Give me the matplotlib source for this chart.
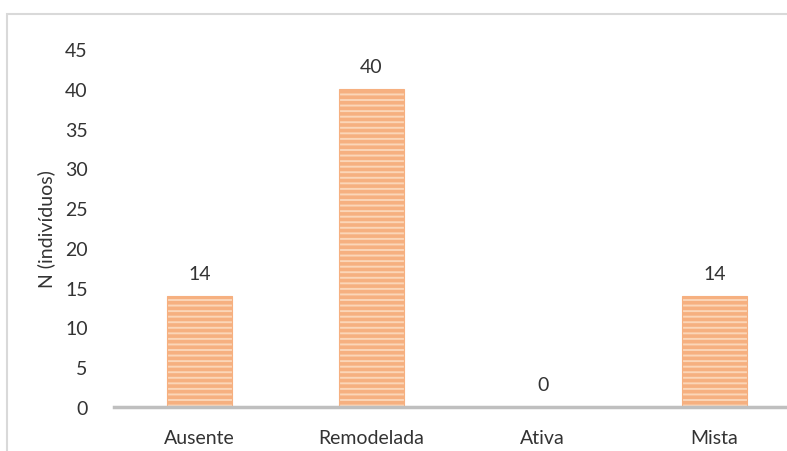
import matplotlib.pyplot as plt
from matplotlib.patches import Rectangle

# data
categorias = ['Ausente', 'Remodelada', 'Ativa', 'Mista']
valores = [14, 40, 0, 14]
yticks = [0, 5, 10, 15, 20, 25, 30, 35, 40, 45]

plt.rcParams['font.family'] = ['Lato', 'DejaVu Sans']
plt.rcParams['hatch.color'] = '#F08234'
plt.rcParams['hatch.linewidth'] = 2.6

W, H = 787, 452
fig = plt.figure(figsize=(W / 100, H / 100), dpi=100)

# outer chart frame
fig.patches.append(Rectangle((7 / W, -0.1), 1.2, (H - 15) / H + 0.1,
                             transform=fig.transFigure, fill=False,
                             edgecolor='#D9D9D9', linewidth=1.5))

ax = fig.add_axes([114 / W, (H - 408) / H, 686 / W, 358 / H])

x = list(range(len(categorias)))
ax.bar(x, valores, width=0.38, color='#FBD6B8', edgecolor='#F6B080',
       linewidth=0.8, hatch='---')

for xi, v in zip(x, valores):
    ax.text(xi, v + 1.7, str(v), ha='center', va='bottom', fontsize=14,
            color='#333333')

ax.set_xlim(-0.5, len(categorias) - 0.5)
ax.set_ylim(0, 45)
ax.set_yticks(yticks)
ax.set_xticks(x)
ax.set_xticklabels(categorias, fontsize=14, color='#333333')
ax.tick_params(axis='x', length=0, pad=16)
ax.tick_params(axis='y', length=0, pad=19, labelsize=14, labelcolor='#333333')

for s in ['top', 'right', 'left']:
    ax.spines[s].set_visible(False)
ax.spines['bottom'].set_color('#BFBFBF')
ax.spines['bottom'].set_linewidth(2.5)

ax.set_ylabel('N (indivíduos)', fontsize=14, color='#333333', labelpad=7)

fig.savefig('out.png', dpi=100)
